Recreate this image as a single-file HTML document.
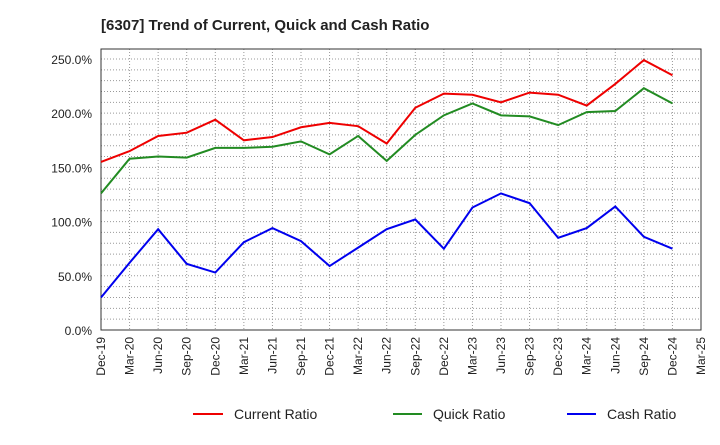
<!DOCTYPE html>
<html><head><meta charset="utf-8"><style>
body{margin:0;background:#fff;font-family:"Liberation Sans",sans-serif;}
</style></head><body>
<svg id="c" width="720" height="440" xmlns="http://www.w3.org/2000/svg">
<text x="101" y="30" font-size="15" font-weight="bold" fill="#222">[6307]  Trend of Current, Quick and Cash Ratio</text>
<g id="grid"></g><g id="axes"></g><g id="series"></g>
<g>
<line x1="193" y1="414" x2="223" y2="414" stroke="#e00" stroke-width="2"/>
<text x="234" y="419" font-size="14" fill="#222">Current Ratio</text>
<line x1="393" y1="414" x2="422" y2="414" stroke="#228b22" stroke-width="2"/>
<text x="433" y="419" font-size="14" fill="#222">Quick Ratio</text>
<line x1="567" y1="414" x2="596" y2="414" stroke="#00e" stroke-width="2"/>
<text x="607" y="419" font-size="14" fill="#222">Cash Ratio</text>
</g>
</svg>
<script>
const xLabels=["Dec-19","Mar-20","Jun-20","Sep-20","Dec-20","Mar-21","Jun-21","Sep-21","Dec-21","Mar-22","Jun-22","Sep-22","Dec-22","Mar-23","Jun-23","Sep-23","Dec-23","Mar-24","Jun-24","Sep-24","Dec-24","Mar-25"];
const yTicks=[0,50,100,150,200,250];
const currentRatio=[155,165,179,182,194,175,178,187,191,188,172,205,218,217,210,219,217,207,227,249,235];
const quickRatio=[126,158,160,159,168,168,169,174,162,179,156,180,198,209,198,197,189,201,202,223,209];
const cashRatio=[30,62,93,61,53,81,94,82,59,76,93,102,75,113,126,117,85,94,114,86,75];
const L=101,R=701,T=49,B=330,yMax=259.2;
const NS="http://www.w3.org/2000/svg";
const xs=i=>L+i*(R-L)/(xLabels.length-1);
const ys=v=>B-v*(B-T)/yMax;
function mk(t,a,p){const e=document.createElementNS(NS,t);for(const k in a)e.setAttribute(k,a[k]);p.appendChild(e);return e;}
const grid=document.getElementById('grid'),axes=document.getElementById('axes'),ser=document.getElementById('series');
xLabels.forEach((lab,i)=>{
 const g=mk('line',{x1:xs(i),x2:xs(i),y1:T,y2:B,stroke:'#999','stroke-dasharray':'1,2','stroke-width':1},grid);
 
 
 const t=mk('text',{x:0,y:0,'font-size':12,fill:'#222','text-anchor':'end',transform:`translate(${xs(i)+4},337) rotate(-90)`},axes);
 t.textContent=lab;
 
 
});
for(let v=10;v<yMax;v+=10){
 const g=mk('line',{x1:L,x2:R,y1:ys(v),y2:ys(v),stroke:'#999','stroke-dasharray':'1,2','stroke-width':1},grid);
 
 
}
yTicks.forEach(v=>{
 const t=mk('text',{x:92,y:ys(v)+5,'font-size':12,fill:'#222','text-anchor':'end'},axes);
 t.textContent=v.toFixed(1)+'%';
 
 
});
const fr=mk('rect',{x:L,y:T,width:R-L,height:B-T,fill:'none',stroke:'#333','stroke-width':1},axes);


[[currentRatio,'#e00','current-ratio-line'],[quickRatio,'#228b22','quick-ratio-line'],[cashRatio,'#00e','cash-ratio-line']].forEach(([d,c,n])=>{
 const p=mk('polyline',{points:d.map((v,i)=>xs(i)+','+ys(v)).join(' '),fill:'none',stroke:c,'stroke-width':2},ser);
 
 
});
</script>
</body></html>
